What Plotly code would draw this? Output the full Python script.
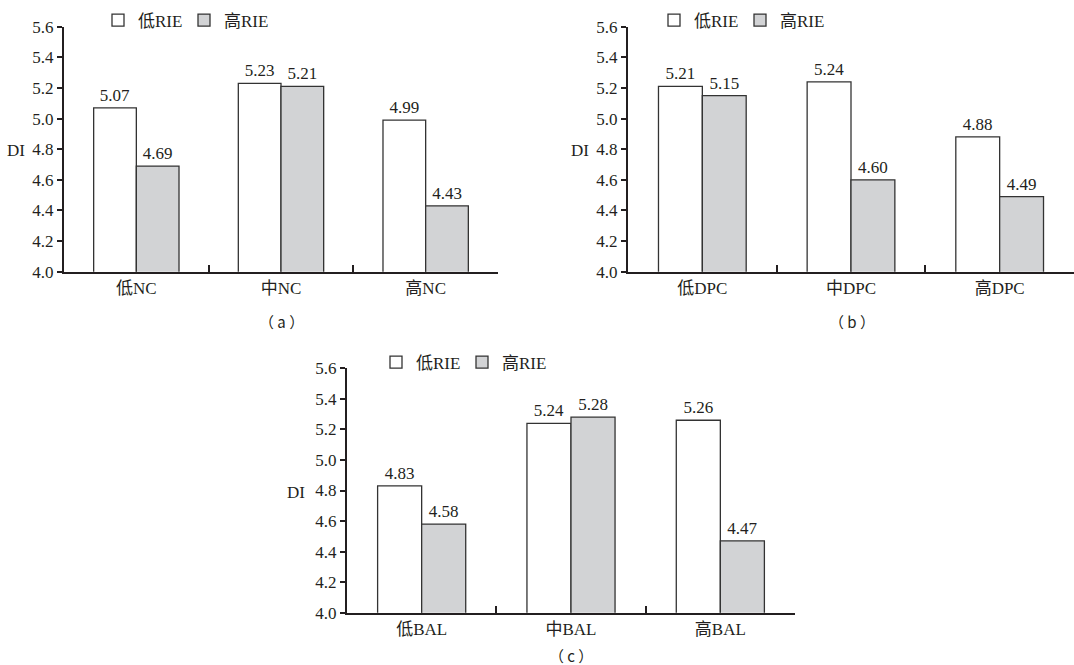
import plotly.graph_objects as go

series_names = ["低RIE", "高RIE"]
panel_a_cats = ["低NC", "中NC", "高NC"]
panel_a_low = [5.07, 5.23, 4.99]
panel_a_high = [4.69, 5.21, 4.43]
panel_b_cats = ["低DPC", "中DPC", "高DPC"]
panel_b_low = [5.21, 5.24, 4.88]
panel_b_high = [5.15, 4.60, 4.49]
panel_c_cats = ["低BAL", "中BAL", "高BAL"]
panel_c_low = [4.83, 5.24, 5.26]
panel_c_high = [4.58, 5.28, 4.47]
captions = ["（ a ）", "（ b ）", "（ c ）"]
y_ticks = [4.0, 4.2, 4.4, 4.6, 4.8, 5.0, 5.2, 5.4, 5.6]

W, H = 1074, 665
FONT = "Liberation Serif, Times New Roman, Noto Sans CJK SC, serif"
CJK = "Noto Sans CJK SC, Liberation Serif, serif"
DARK = "#231f20"
GREY = "#d2d3d5"

panels = [
    dict(cats=panel_a_cats, low=panel_a_low, high=panel_a_high, xs="x", ys="y", xa="xaxis", ya="yaxis",
         px=(64, 498), py=(26.7, 271.7), legend="legend", leg=(98, 2.5), di=(16, 150), cap=(281, 321)),
    dict(cats=panel_b_cats, low=panel_b_low, high=panel_b_high, xs="x2", ys="y2", xa="xaxis2", ya="yaxis2",
         px=(628, 1074), py=(26.7, 271.7), legend="legend2", leg=(654, 2.5), di=(580, 150), cap=(852, 321)),
    dict(cats=panel_c_cats, low=panel_c_low, high=panel_c_high, xs="x3", ys="y3", xa="xaxis3", ya="yaxis3",
         px=(347, 795), py=(368.3, 612.7), legend="legend3", leg=(376, 344.5), di=(296, 492), cap=(571, None)),
]

fig = go.Figure()
layout = {}
annotations = []
for i, p in enumerate(panels):
    for name, vals, color in [(series_names[0], p["low"], "white"), (series_names[1], p["high"], GREY)]:
        fig.add_trace(go.Bar(
            x=p["cats"], y=vals, name=name, xaxis=p["xs"], yaxis=p["ys"], legend=p["legend"],
            marker=dict(color=color, line=dict(color="#333333", width=1.3)),
            texttemplate="%{y:.2f}", textposition="outside", cliponaxis=False,
            textfont=dict(family=FONT, size=17, color=DARK),
        ))
    layout[p["xa"]] = dict(
        domain=[p["px"][0] / W, min(p["px"][1] / W, 1.0)], anchor=p["ys"],
        showline=True, linecolor=DARK, linewidth=2, ticks="inside", tickson="boundaries",
        ticklen=7, tickwidth=2, tickcolor=DARK, showgrid=False, automargin=False,
        tickfont=dict(family=FONT, size=17, color=DARK),
    )
    layout[p["ya"]] = dict(
        domain=[1 - p["py"][1] / H, 1 - p["py"][0] / H], anchor=p["xs"],
        range=[4.0, 5.6], tickvals=y_ticks, tickformat=".1f",
        showline=True, linecolor=DARK, linewidth=2, ticks="outside", ticklen=5, tickwidth=2,
        tickcolor=DARK, showgrid=False, zeroline=False, automargin=False,
        tickfont=dict(family=FONT, size=17, color=DARK),
    )
    layout[p["legend"]] = dict(
        x=p["leg"][0] / W, y=1 - p["leg"][1] / H, xanchor="left", yanchor="top",
        orientation="h", font=dict(family=FONT, size=17, color=DARK),
        bgcolor="rgba(0,0,0,0)", itemwidth=30, tracegroupgap=0,
        entrywidth=41, entrywidthmode="pixels",
    )
    annotations.append(dict(text="DI", x=p["di"][0] / W, y=1 - p["di"][1] / H, xref="paper", yref="paper",
                            xanchor="center", yanchor="middle",
                            showarrow=False, font=dict(family=FONT, size=17, color=DARK)))
    if p["cap"][1] is None:
        annotations.append(dict(text=captions[i], x=p["cap"][0] / W, y=-0.004,
                                xanchor="center", yanchor="bottom",
                                xref="paper", yref="paper", showarrow=False,
                                font=dict(family=CJK, size=15, color=DARK)))
    else:
        annotations.append(dict(text=captions[i], x=p["cap"][0] / W, y=1 - p["cap"][1] / H,
                                xanchor="center", yanchor="middle",
                                xref="paper", yref="paper", showarrow=False,
                                font=dict(family=CJK, size=15, color=DARK)))

fig.update_layout(
    **layout,
    annotations=annotations,
    width=W, height=H, margin=dict(l=0, r=0, t=0, b=0, autoexpand=False),
    paper_bgcolor="white", plot_bgcolor="white",
    barmode="group", bargap=0.41, bargroupgap=0,
    showlegend=True,
)
fig.write_html("out.html", config={"displayModeBar": False},
               post_script="document.body.style.margin='0';document.body.style.overflow='hidden';")
